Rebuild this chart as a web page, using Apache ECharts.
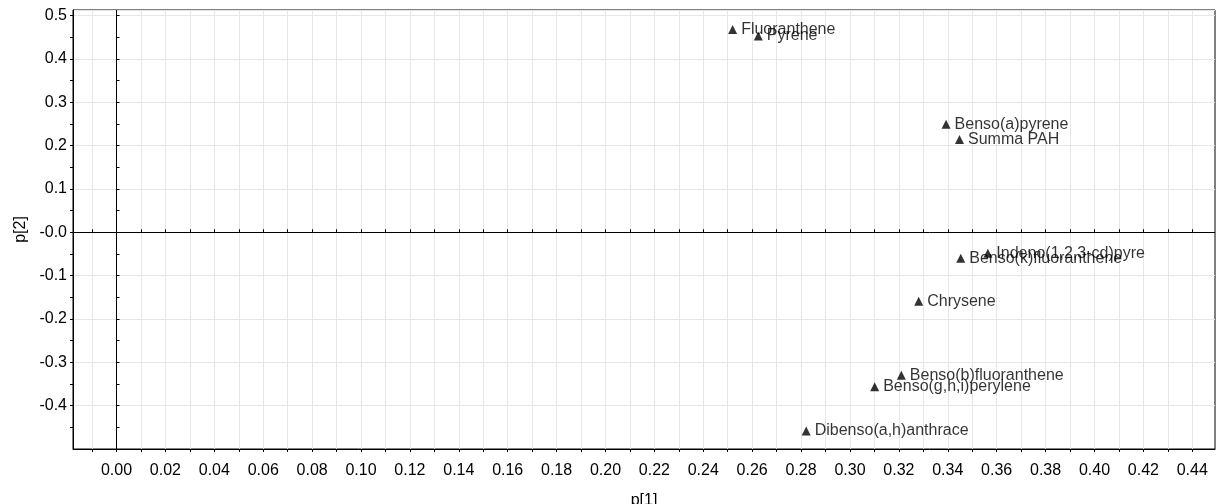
<!DOCTYPE html>
<html>
<head>
<meta charset="utf-8">
<title>PAH loadings p[1] / p[2]</title>
<script src="https://cdn.jsdelivr.net/npm/echarts@6/dist/echarts.min.js"></script>
<style>
  html, body { margin: 0; padding: 0; background: #ffffff; }
  #chart { width: 1221px; height: 504px; }
</style>
</head>
<body>
<div id="chart"></div>
<script>
// Loadings of the PAH variables on the first two components
const compounds = [
  'Fluoranthene', 'Pyrene', 'Benso(a)pyrene', 'Summa PAH',
  'Indeno(1,2,3-cd)pyre', 'Benso(k)fluoranthene', 'Chrysene',
  'Benso(b)fluoranthene', 'Benso(g,h,i)perylene', 'Dibenso(a,h)anthrace'
];
const p1 = [0.2520, 0.2625, 0.3393, 0.3448, 0.3564, 0.3453, 0.3281, 0.3210, 0.3101, 0.2821];
const p2 = [0.468, 0.4527, 0.249, 0.214, -0.0485, -0.0598, -0.1594, -0.330, -0.3566, -0.4584];

// Axis extents and tick labels
const xRange = [-0.0178, 0.4493];
const yRange = [-0.5, 0.5127];
const xTickLabels = ['0.00', '0.02', '0.04', '0.06', '0.08', '0.10', '0.12', '0.14', '0.16', '0.18',
  '0.20', '0.22', '0.24', '0.26', '0.28', '0.30', '0.32', '0.34', '0.36', '0.38', '0.40', '0.42', '0.44'];
const yTickLabels = ['-0.4', '-0.3', '-0.2', '-0.1', '-0.0', '0.1', '0.2', '0.3', '0.4', '0.5'];

const FONT = '"Liberation Sans", Arial, Helvetica, sans-serif';
const TEXT = '#000000';

// tick marks: every 0.01 on p[1], every 0.05 on p[2]
const xTicks = [];
for (let i = -1; i <= 44; i++) xTicks.push(+(i * 0.01).toFixed(2));
const yTicks = [];
for (let i = -9; i <= 10; i++) yTicks.push(+(i * 0.05).toFixed(2));

const labelFor = (list) => (v) => {
  const hit = list.find(t => Math.abs(Number(t) - v) < 1e-9);
  return hit === undefined ? '' : hit;
};

const points = compounds.map((name, i) => ({ name: name, value: [p1[i], p2[i]] }));

const chart = echarts.init(document.getElementById('chart'), null, { renderer: 'canvas' });

chart.setOption({
  animation: false,
  backgroundColor: '#ffffff',
  textStyle: { fontFamily: FONT },
  grid: {
    left: 73, right: 6, top: 10, bottom: 55,
    show: true, borderColor: '#000000', borderWidth: 1,
    containLabel: false,
    outerBoundsMode: 'none'
  },
  xAxis: [
    {
      type: 'value', min: xRange[0], max: xRange[1], position: 'bottom',
      name: 'p[1]', nameLocation: 'middle', nameGap: 44,
      nameTextStyle: { color: TEXT, fontSize: 16, fontFamily: FONT },
      axisLine: { show: true, onZero: false, lineStyle: { color: '#000000', width: 1 } },
      axisTick: { show: true, customValues: xTicks, length: 3, lineStyle: { color: '#000000' } },
      axisLabel: {
        customValues: xTickLabels.map(Number), formatter: labelFor(xTickLabels),
        color: TEXT, fontSize: 16, fontFamily: FONT, margin: 14
      },
      splitLine: { show: true, lineStyle: { color: '#e6e6e6', width: 1 } }
    },
    {
      type: 'value', min: xRange[0], max: xRange[1], position: 'bottom',
      axisLine: { show: false },
      axisTick: { show: true, inside: true, customValues: xTicks, length: 3, lineStyle: { color: '#000000' } },
      axisLabel: { show: false },
      splitLine: { show: false }
    }
  ],
  yAxis: [
    {
      type: 'value', min: yRange[0], max: yRange[1], position: 'left',
      name: 'p[2]', nameLocation: 'middle', nameGap: 43,
      nameTextStyle: { color: TEXT, fontSize: 16, fontFamily: FONT },
      axisLine: { show: true, onZero: false, lineStyle: { color: '#000000', width: 1 } },
      axisTick: { show: true, customValues: yTicks, length: 3, lineStyle: { color: '#000000' } },
      axisLabel: {
        customValues: yTickLabels.map(Number), formatter: labelFor(yTickLabels),
        color: TEXT, fontSize: 16, fontFamily: FONT, margin: 6
      },
      splitLine: { show: false }
    },
    {
      // horizontal grid lines every 0.1
      type: 'value', min: yRange[0], max: yRange[1], interval: 0.1, position: 'left',
      axisLine: { show: false }, axisTick: { show: false }, axisLabel: { show: false },
      splitLine: { show: true, lineStyle: { color: '#e6e6e6', width: 1 } }
    },
    {
      type: 'value', min: yRange[0], max: yRange[1], position: 'left',
      axisLine: { show: false },
      axisTick: { show: true, inside: true, customValues: yTicks, length: 3, lineStyle: { color: '#000000' } },
      axisLabel: { show: false },
      splitLine: { show: false }
    }
  ],
  series: [
    {
      type: 'scatter',
      xAxisIndex: 0, yAxisIndex: 0,
      symbol: 'triangle',
      symbolSize: 9,
      itemStyle: { color: '#000000' },
      z: 5,
      label: {
        show: true, position: 'right', distance: 4,
        formatter: (p) => p.name,
        color: TEXT, fontSize: 16, fontFamily: FONT
      },
      labelLayout: { hideOverlap: false },
      emphasis: { disabled: true },
      markLine: {
        silent: true, symbol: 'none', animation: false,
        label: { show: false },
        lineStyle: { color: '#000000', width: 1, type: 'solid' },
        emphasis: { disabled: true },
        data: [{ xAxis: 0 }, { yAxis: 0 }]
      },
      data: points
    }
  ]
});
</script>
</body>
</html>
